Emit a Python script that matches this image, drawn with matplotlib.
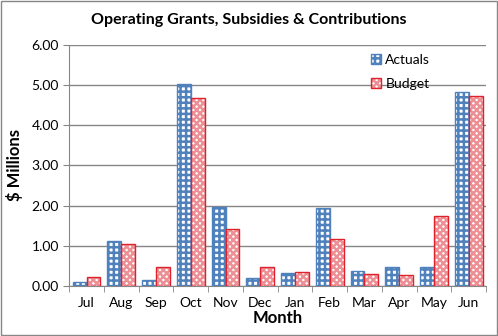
import numpy as np
import matplotlib
matplotlib.use('Agg')
from matplotlib import pyplot as plt

months = ['Jul', 'Aug', 'Sep', 'Oct', 'Nov', 'Dec', 'Jan', 'Feb', 'Mar', 'Apr', 'May', 'Jun']
actuals = [0.11, 1.11, 0.16, 5.04, 1.97, 0.20, 0.33, 1.95, 0.38, 0.46, 0.47, 4.82]
budget = [0.23, 1.04, 0.47, 4.69, 1.41, 0.46, 0.34, 1.16, 0.29, 0.27, 1.75, 4.74]
yticks = [0, 1, 2, 3, 4, 5, 6]

plt.rcParams['font.family'] = ['Lato', 'DejaVu Sans']
plt.rcParams['hatch.linewidth'] = 1.8

fig = plt.figure(figsize=(4.98, 3.36), dpi=100)
ax = fig.add_axes([0.139, 0.149, 0.837, 0.717])

x = np.arange(len(months))
w = 0.4

b1 = ax.bar(x - w / 2, actuals, w, color='white', edgecolor='#4F81BD', hatch='+++', linewidth=1.0, label='Actuals', zorder=3)
b2 = ax.bar(x + w / 2, budget, w, color='white', edgecolor='#E0202A', hatch='xxxxx', linewidth=1.0, label='Budget', zorder=3)
# lighter hatch for the budget bars, edge stays red
for b in b2:
    b._hatch_color = matplotlib.colors.to_rgba('#EC9096')
for b in b1:
    b._hatch_color = matplotlib.colors.to_rgba('#4F81BD')

ax.set_xlim(-0.5, len(months) - 0.5)
ax.set_ylim(0, 6)
ax.set_yticks(yticks)
ax.set_yticklabels([f'{v:.2f}' for v in yticks], fontsize=10)
ax.set_xticks(x)
ax.set_xticklabels(months, fontsize=10)
ax.set_xticks(np.arange(-0.5, len(months)), minor=True)
ax.tick_params(axis='x', which='major', length=0, pad=8)
ax.tick_params(axis='x', which='minor', length=4, color='#868686')
ax.tick_params(axis='y', length=4, color='#868686')

ax.grid(axis='y', color='#868686', linewidth=1.0, zorder=0)
ax.set_axisbelow(True)
for s in ['top', 'right']:
    ax.spines[s].set_visible(False)
for s in ['left', 'bottom']:
    ax.spines[s].set_color('#868686')

ax.set_xlabel('Month', fontsize=12, fontweight='bold', labelpad=1)
ax.set_ylabel('$ Millions', fontsize=12, fontweight='bold', labelpad=6)
fig.suptitle('Operating Grants, Subsidies & Contributions', fontsize=11.5, fontweight='bold', y=0.96)

ax.legend(loc='upper left', bbox_to_anchor=(0.695, 1.015), frameon=False, fontsize=10,
          handlelength=0.7, handleheight=0.7, handletextpad=0.3, labelspacing=0.85)

fig.patches.append(plt.Rectangle((0.002, 0.003), 0.995, 0.994, transform=fig.transFigure,
                                 fill=False, edgecolor='#868686', linewidth=1.0))

plt.savefig('out.png')
